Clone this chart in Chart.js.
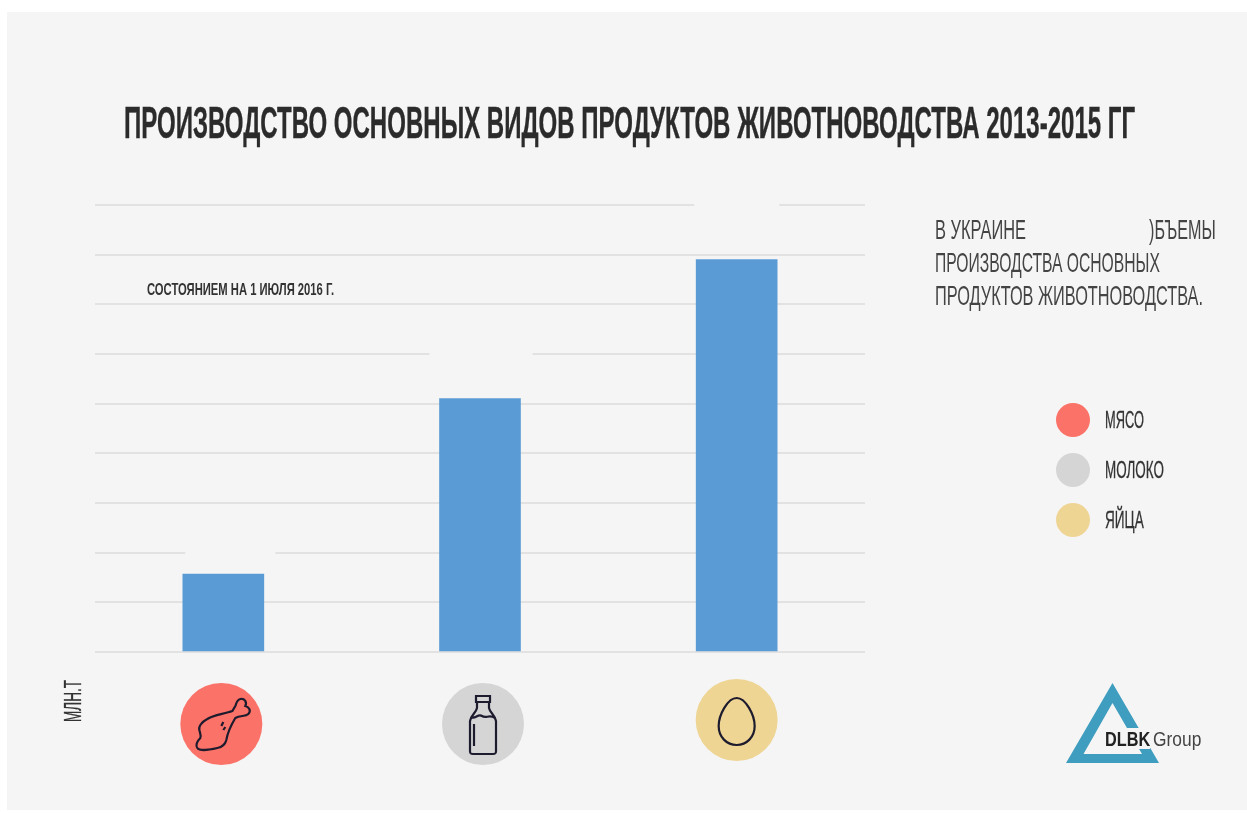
<!DOCTYPE html>
<html lang="ru">
<head>
<meta charset="utf-8">
<title>Производство основных видов продуктов животноводства</title>
<script src="https://cdn.jsdelivr.net/npm/chart.js@4"></script>
<style>
    html, body { margin: 0; padding: 0; background: #fff; overflow: hidden; }
    #page { position: relative; width: 1247px; height: 813px; overflow: hidden; }
    #panel { position: absolute; left: 7px; top: 12px; width: 1240px; height: 798px; background: #f5f5f5; }
    #chart { position: absolute; left: 0; top: 0; }
    .txt {
        position: absolute; white-space: pre; line-height: 1; transform-origin: 0 0;
        font-family: "Liberation Sans Narrow", "Liberation Sans", sans-serif;
    }
    .dot { position: absolute; border-radius: 50%; width: 34px; height: 34px; }
    #logo { position: absolute; left: 0; top: 0; }
</style>
</head>
<body>
<div id="page">
    <div id="panel"></div>
    <canvas id="chart" width="1247" height="813"></canvas>
    <svg id="logo" width="1247" height="813">
        <path fill="#3f9dbf" fill-rule="evenodd" d="M1112.5 683 L1159 763 L1066 763 Z M1112.5 703 L1083.5 754 L1142 754 Z"/>
    </svg>
</div>
<script>
// values (no tick labels in the original, so units are gridline steps)
const categories = ['Мясо', 'Молоко', 'Яйца'];
const production = [1.57, 5.1, 7.9];
const yTicksMax = 9;

const titleText = 'ПРОИЗВОДСТВО ОСНОВНЫХ ВИДОВ ПРОДУКТОВ ЖИВОТНОВОДСТВА 2013-2015 ГГ';
const noteText = 'СОСТОЯНИЕМ НА 1 ИЮЛЯ 2016 Г.';
const unitText = 'МЛН.Т';
const legendLabels = ['МЯСО', 'МОЛОКО', 'ЯЙЦА'];
const legendColors = ['#fb7268', '#d5d5d5', '#efd594'];

const BG = '#f5f5f5';
const page = document.getElementById('page');

// squeeze a text to the width it has in the picture, the fonts here are wider
function addText(text, x, top, width, size, weight, color, stroke) {
    const el = document.createElement('span');
    el.className = 'txt';
    el.textContent = text;
    el.style.left = x + 'px';
    el.style.top = top + 'px';
    el.style.fontSize = size + 'px';
    el.style.fontWeight = weight;
    el.style.color = color;
    if (stroke) el.style.webkitTextStroke = stroke + 'px ' + color;
    page.appendChild(el);
    el.style.transform = 'scaleX(' + (width / el.offsetWidth) + ')';
    return el;
}

addText(titleText, 124, 101, 1011, 44, 'bold', '#2b2b2b', 0.4);
addText(noteText, 147, 281, 187, 17, 'bold', '#333');

addText('В УКРАИНЕ', 935, 216, 91, 28, 'normal', '#444');
addText(')БЪЕМЫ', 1149, 216, 67, 28, 'normal', '#444');
addText('ПРОИЗВОДСТВА ОСНОВНЫХ', 935, 249, 225, 28, 'normal', '#444');
addText('ПРОДУКТОВ ЖИВОТНОВОДСТВА.', 935, 282, 268, 28, 'normal', '#444');

const legendWidths = [39, 59, 39];
legendLabels.forEach(function(label, i) {
    const dot = document.createElement('div');
    dot.className = 'dot';
    dot.style.left = '1056px';
    dot.style.top = (403 + i * 50) + 'px';
    dot.style.background = legendColors[i];
    page.appendChild(dot);
    addText(label, 1105, 409 + i * 50, legendWidths[i], 23, 'normal', '#333', 0.3);
});

// rotated unit label under the axis
const unit = addText(unitText, 0, 0, 42, 23, 'normal', '#333', 0.3);
unit.style.left = '62px';
unit.style.top = '722px';
unit.style.transform = 'rotate(-90deg) scaleX(' + (42 / unit.offsetWidth) + ')';

// logo caption, the patch behind it cuts the triangle like in the original
const dlbk = addText('DLBK', 1105, 728, 45, 21, 'bold', '#222');
dlbk.style.background = BG;
addText('Group', 1153, 728, 48, 21, 'normal', '#444');

const iconPaths = [
    // chicken leg
    'M11 -13 C3 -10 -8 -9 -14 -5 C-20 -2 -23 3 -22 6 C-21 10 -20 12 -21 14 C-24 17 -26 21 -24 24 C-22 27 -12 26 -4 24 C1 23 4 20 5 16 C6 10 8 4 14 -6 C19 -9 24 -7 27 -10 C30 -13 28 -17 24 -18 C26 -22 23 -26 19 -25 C15 -24 15 -20 14 -18 Z M0 2 L2 -2 M2 6 L4 3',
    // milk bottle
    'M-7 -28 L7 -28 L7 -22 L-7 -22 Z M-6 -22 L-6 -16 C-7 -11 -12 -9 -13 -3 L-13 27 C-13 30 -12 30 -10 30 L10 30 C12 30 13 30 13 27 L13 -3 C12 -9 7 -11 6 -16 L6 -22 M-12 -7 C-8 -4 -5 -11 -1 -8 C3 -5 6 -10 12 -6 M-9 0 L-9 22',
    // egg
    'M0 -22 C-9 -22 -18 -5 -18 6 C-18 17 -10 25 0 25 C10 25 18 17 18 6 C18 -5 9 -22 0 -22 Z'
];
const iconOffsets = [[-2, 72], [3, 72], [0, 68]];

// circles with the pictograms under each category
const categoryIcons = {
    id: 'categoryIcons',
    afterDraw(chart) {
        const ctx = chart.ctx;
        const xScale = chart.scales.x;
        categories.forEach(function(cat, i) {
            const cx = xScale.getPixelForValue(i) + iconOffsets[i][0];
            const cy = chart.chartArea.bottom + iconOffsets[i][1];
            ctx.save();
            ctx.beginPath();
            ctx.arc(cx, cy, 41, 0, Math.PI * 2);
            ctx.fillStyle = legendColors[i];
            ctx.fill();
            ctx.translate(cx, cy);
            ctx.strokeStyle = '#1d1b2e';
            ctx.lineWidth = 2.2;
            ctx.stroke(new Path2D(iconPaths[i]));
            ctx.restore();
        });
    }
};

// the gridlines are broken above the bars where labels were removed
const gridGaps = {
    id: 'gridGaps',
    beforeDatasetsDraw(chart) {
        const ctx = chart.ctx;
        const xScale = chart.scales.x;
        const yScale = chart.scales.y;
        const gapLines = [2, 6, 9];
        const gapShift = [7, 1, 0];
        const gapWidth = [90, 103, 85];
        ctx.save();
        ctx.fillStyle = BG;
        gapLines.forEach(function(line, i) {
            const x = xScale.getPixelForValue(i) + gapShift[i] - gapWidth[i] / 2;
            ctx.fillRect(x, yScale.getPixelForValue(line) - 3, gapWidth[i], 6);
        });
        ctx.restore();
    }
};

new Chart(document.getElementById('chart'), {
    type: 'bar',
    data: {
        labels: categories,
        datasets: [{
            data: production,
            backgroundColor: '#5b9bd5',
            barThickness: 81
        }]
    },
    options: {
        responsive: false,
        animation: false,
        layout: { padding: { left: 95, right: 382, top: 205, bottom: 153 } },
        plugins: { legend: { display: false }, tooltip: { enabled: false } },
        scales: {
            x: {
                grid: { display: false },
                border: { display: false },
                ticks: { display: false }
            },
            y: {
                min: 0,
                max: yTicksMax,
                grid: { color: '#e2e2e2', lineWidth: 2, drawTicks: false },
                border: { display: false },
                ticks: { display: false, stepSize: 1 }
            }
        }
    },
    plugins: [gridGaps, categoryIcons]
});
</script>
</body>
</html>
